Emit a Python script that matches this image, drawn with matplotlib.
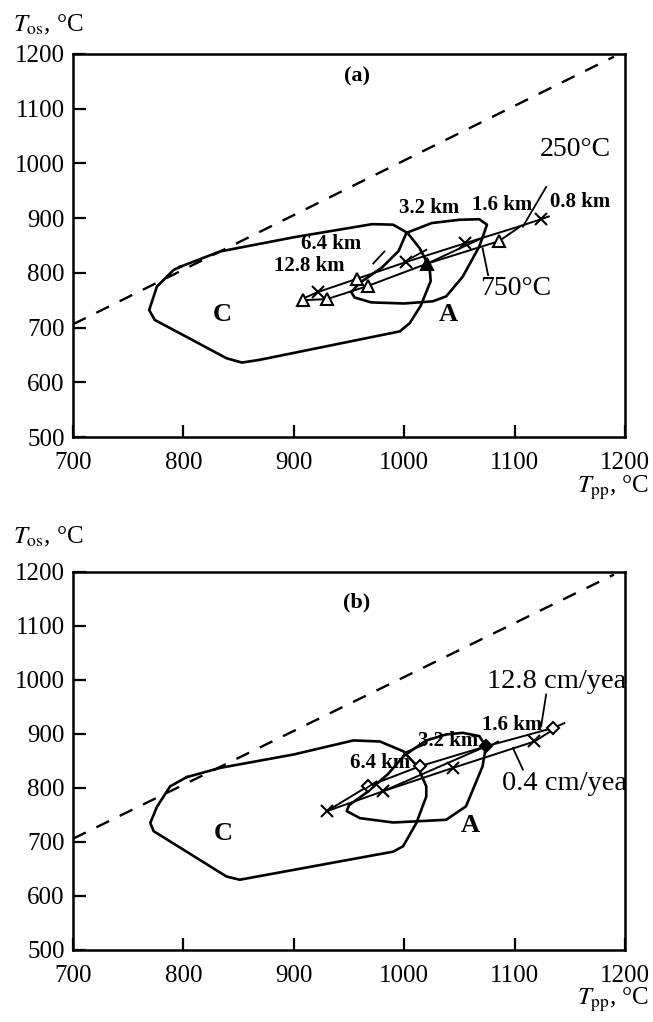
import matplotlib
matplotlib.use("Agg")
import matplotlib.pyplot as plt

# ---- data (T_pp, T_os in degC) ----
x_ticks = [700, 800, 900, 1000, 1100, 1200]
y_ticks = [500, 600, 700, 800, 900, 1000, 1100, 1200]

dash_x = [700, 1190]
dash_y = [706, 1195]

# panel (a)
a_C_x = [797, 833, 900, 971, 990, 1003, 1014, 1023, 1024, 1015, 1005, 996, 869, 853, 839, 774, 769, 776, 791, 797]
a_C_y = [811, 839, 865, 889, 888, 873, 845, 810, 785, 740, 708, 693, 641, 636, 644, 714, 732, 775, 805, 811]
a_A_x = [1002, 1025, 1050, 1068, 1075, 1068, 1053, 1038, 1026, 1000, 970, 955, 952, 960, 980, 995, 1002]
a_A_y = [873, 891, 897, 898, 888, 848, 793, 757, 748, 744, 746, 755, 765, 782, 810, 840, 873]
a_250_x = [907, 922, 957, 1002, 1055, 1106, 1124, 1131]
a_250_y = [752, 765, 789, 820, 854, 886, 898, 903]
a_750_x = [908, 930, 967, 1021, 1086, 1106]
a_750_y = [750, 752, 776, 817, 858, 886]
a_link_x = [1021, 1073]
a_link_y = [817, 866]
a_cross_x = [922, 1002, 1055, 1124]
a_cross_y = [765, 820, 854, 898]
a_tri_x = [908, 930, 957, 967, 1086]
a_tri_y = [750, 752, 789, 776, 858]
a_tri_dark_x = [1021]
a_tri_dark_y = [817]

# panel (b)
b_C_x = [803, 833, 900, 954, 978, 999, 1012, 1020, 1020, 1011, 999, 990, 851, 839, 773, 770, 776, 782, 788, 803]
b_C_y = [820, 837, 862, 888, 886, 868, 840, 803, 784, 735, 692, 682, 630, 636, 720, 735, 765, 784, 803, 820]
b_A_x = [1000, 1020, 1038, 1053, 1068, 1074, 1071, 1056, 1038, 990, 960, 948, 950, 965, 985, 1000]
b_A_y = [860, 888, 899, 902, 896, 877, 840, 766, 741, 736, 744, 757, 768, 790, 825, 860]
b_up_x = [930, 967, 1014, 1074, 1135, 1145]
b_up_y = [757, 803, 840, 877, 911, 920]
b_lo_x = [930, 981, 1044, 1118, 1135]
b_lo_y = [757, 794, 837, 886, 908]
b_link_x = [981, 1074]
b_link_y = [794, 877]
b_cross_x = [930, 981, 1044, 1118]
b_cross_y = [757, 794, 837, 886]
b_dia_x = [967, 1014, 1135]
b_dia_y = [803, 840, 911]
b_dia_dark_x = [1074]
b_dia_dark_y = [877]

plt.rcParams["font.family"] = ["Liberation Serif", "DejaVu Serif"]
plt.rcParams["mathtext.fontset"] = "stix"

fig = plt.figure(figsize=(6.53, 10.22), dpi=100)
ax_a = fig.add_axes([0.1118, 0.5724, 0.8453, 0.3748])
ax_b = fig.add_axes([0.1118, 0.0705, 0.8453, 0.3699])

for ax in (ax_a, ax_b):
    ax.set_xlim(700, 1200)
    ax.set_ylim(500, 1200)
    ax.set_xticks(x_ticks)
    ax.set_yticks(y_ticks)
    ax.tick_params(direction="in", length=9, width=1.6, labelsize=18)
    ax.tick_params(axis="x", pad=11)
    ax.tick_params(axis="y", pad=6)
    for s in ax.spines.values():
        s.set_linewidth(1.8)
    ax.plot(dash_x, dash_y, "k--", lw=1.7, dashes=(6, 5))

lw = 1.9
bold = dict(fontsize=15, fontweight="bold", ha="center", va="center")
big = dict(fontsize=20.5, ha="left", va="center", clip_on=True)

# ---- panel (a) ----
ax_a.plot(a_C_x, a_C_y, "k-", lw=lw)
ax_a.plot(a_A_x, a_A_y, "k-", lw=lw)
ax_a.plot(a_250_x, a_250_y, "k-", lw=1.4)
ax_a.plot(a_750_x, a_750_y, "k-", lw=1.4)
ax_a.plot(a_link_x, a_link_y, "k-", lw=1.4)
ax_a.plot(a_cross_x, a_cross_y, "kx", ms=8, mew=1.5)
ax_a.plot(a_tri_x, a_tri_y, "k^", ms=8, mfc="white", mew=1.5)
ax_a.plot(a_tri_dark_x, a_tri_dark_y, "k^", ms=8, mew=1.5)
ax_a.plot([1128.6, 1107.5], [957, 884.5], "k-", lw=1.3)
ax_a.plot([1076, 1071], [796, 845], "k-", lw=1.3)
ax_a.plot([1000, 1020], [820, 842], "k-", lw=1.3)
ax_a.plot([972, 982], [817, 839], "k-", lw=1.3)

ax_a.text(957, 1158, "(a)", fontsize=16, fontweight="bold", ha="center", va="center")
ax_a.text(835, 724, "C", fontsize=19, fontweight="bold", ha="center", va="center")
ax_a.text(1040, 724, "A", fontsize=19, fontweight="bold", ha="center", va="center")
ax_a.text(1155, 1026, "250°C", fontsize=20, ha="center", va="center")
ax_a.text(1101, 772, "750°C", fontsize=20, ha="center", va="center")
ax_a.text(1159, 930, "0.8 km", **bold)
ax_a.text(1089, 924, "1.6 km", **bold)
ax_a.text(1023, 919, "3.2 km", **bold)
ax_a.text(934, 853, "6.4 km", **bold)
ax_a.text(914, 812, "12.8 km", **bold)

# ---- panel (b) ----
ax_b.plot(b_C_x, b_C_y, "k-", lw=lw)
ax_b.plot(b_A_x, b_A_y, "k-", lw=lw)
ax_b.plot(b_up_x, b_up_y, "k-", lw=1.4)
ax_b.plot(b_lo_x, b_lo_y, "k-", lw=1.4)
ax_b.plot(b_link_x, b_link_y, "k-", lw=1.4)
ax_b.plot(b_cross_x, b_cross_y, "kx", ms=8, mew=1.5)
ax_b.plot(b_dia_x, b_dia_y, "kD", ms=6, mfc="white", mew=1.5)
ax_b.plot(b_dia_dark_x, b_dia_dark_y, "kD", ms=6, mew=1.5)
ax_b.plot([1128.6, 1124], [973, 914], "k-", lw=1.3)
ax_b.plot([1107.5, 1098.5], [834, 874], "k-", lw=1.3)
ax_b.plot([1000, 1018], [865, 880], "k-", lw=1.3)
ax_b.plot([966, 975], [800, 812], "k-", lw=1.3)
ax_b.plot([1074, 1085], [874, 886], "k-", lw=1.3)

ax_b.text(957, 1144, "(b)", fontsize=16, fontweight="bold", ha="center", va="center")
ax_b.text(836, 716, "C", fontsize=19, fontweight="bold", ha="center", va="center")
ax_b.text(1060, 730, "A", fontsize=19, fontweight="bold", ha="center", va="center")
ax_b.text(1075, 998, "12.8 cm/year", **big)
ax_b.text(1089, 809, "0.4 cm/year", **big)
ax_b.text(1098, 917, "1.6 km", **bold)
ax_b.text(1040, 886, "3.2 km", **bold)
ax_b.text(978, 847, "6.4 km", **bold)

# axis titles
for y_os, y_pp in ((0.9755, 0.5225), (0.4746, 0.0215)):
    fig.text(0.02, y_os, r"$T_{\rm os}$, °C", fontsize=18, ha="left", va="center")
    fig.text(0.995, y_pp, r"$T_{\rm pp}$, °C", fontsize=18, ha="right", va="center")

fig.savefig("out.png", dpi=100)
